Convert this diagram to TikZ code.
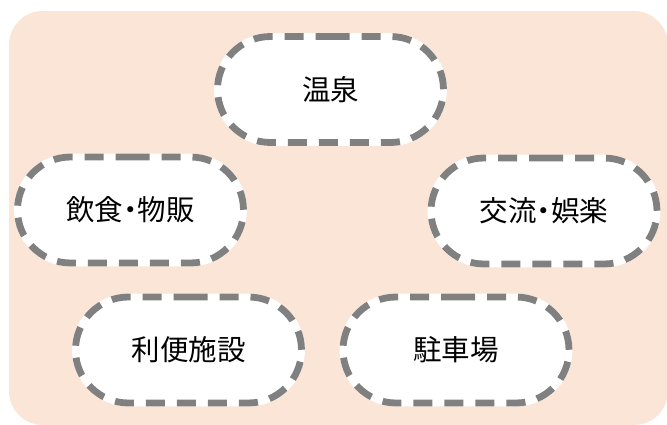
\documentclass[tikz,border=0pt]{standalone}
\usepackage{fontspec}
\setmainfont{Noto Sans CJK JP}[RawFeature=+palt]
\definecolor{bgpeach}{HTML}{FBE5D6}
\definecolor{dashgray}{HTML}{808080}
\tikzset{
  pill/.style={rounded rectangle, minimum width=226pt, minimum height=106pt,
    fill=white, draw=dashgray, line width=6.8pt, dash pattern=on 19pt off 12pt,
    preaction={draw=white, line width=6.8pt, solid},
    font=\fontsize{28.5}{32}\selectfont, inner sep=0pt}
}
\usetikzlibrary{shapes.misc}
\begin{document}
\begin{tikzpicture}[x=1pt,y=-1pt]
\useasboundingbox (0,0) rectangle (667,425);
\fill[bgpeach, rounded corners=34pt] (9,11) rectangle (668,425);
\node[pill] (onsen) at (330.5,89.5) {温泉};
\node[pill] (inshoku) at (130.5,210) {飲食・物販};
\node[pill] (koryu) at (544,211) {交流・娯楽};
\node[pill] (riben) at (188.5,350) {利便施設};
\node[pill] (chusha) at (456,350) {駐車場};
\end{tikzpicture}
\end{document}
